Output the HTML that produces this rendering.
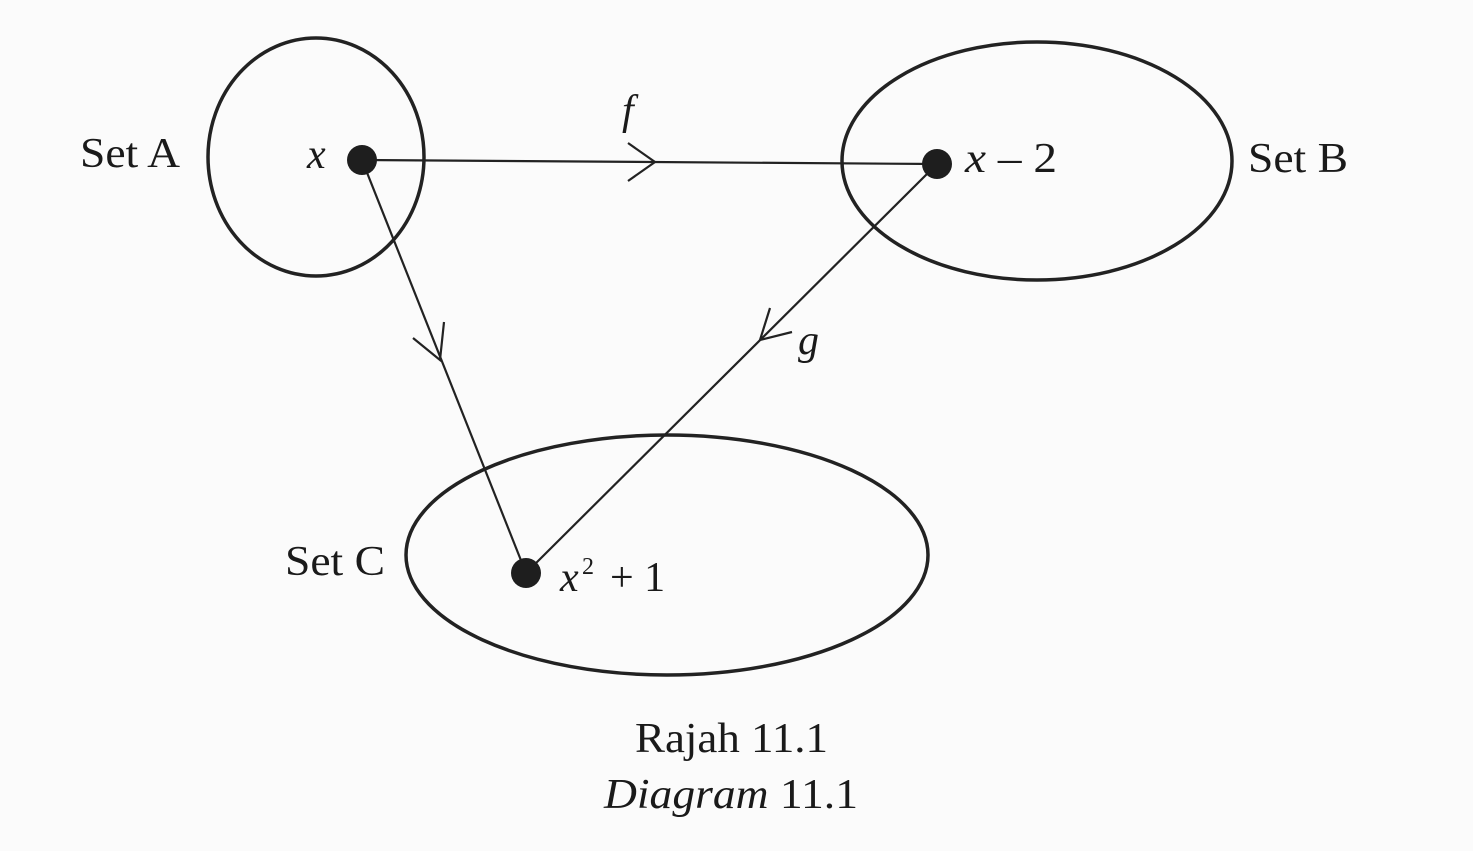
<!DOCTYPE html>
<html><head><meta charset="utf-8"><style>
html,body{margin:0;padding:0;background:#fbfbfb;}
svg{display:block;}
text{font-family:"Liberation Serif",serif;fill:#1a1a1a;}
</style></head><body>
<svg width="1473" height="851" viewBox="0 0 1473 851" xmlns="http://www.w3.org/2000/svg">
<rect width="1473" height="851" fill="#fbfbfb"/>
<g fill="none" stroke="#222" stroke-width="3.5">
<ellipse cx="316" cy="157" rx="108" ry="119"/>
<ellipse cx="1037" cy="161" rx="195" ry="119"/>
<ellipse cx="667" cy="555" rx="261" ry="120"/>
</g>
<g stroke="#222" stroke-width="2.2" fill="none">
<line x1="362" y1="160" x2="937" y2="164"/>
<line x1="362" y1="160" x2="526" y2="573"/>
<line x1="937" y1="164" x2="526" y2="573"/>
<polyline points="628,143 655,162 628,181"/>
<polyline points="413,338 440,360 444,322"/>
<polyline points="792,332 760,340 770,308"/>
</g>
<g fill="#1e1e1e">
<circle cx="362" cy="160" r="15"/>
<circle cx="937" cy="164" r="15"/>
<circle cx="526" cy="573" r="15"/>
</g>
<text x="80" y="167" font-size="42" textLength="100" lengthAdjust="spacingAndGlyphs">Set A</text>
<text x="307" y="168" font-size="42" font-style="italic">x</text>
<text x="622" y="124" font-size="42" font-style="italic">f</text>
<text x="965" y="172" font-size="42" textLength="92" lengthAdjust="spacingAndGlyphs"><tspan font-style="italic">x</tspan> – 2</text>
<text x="1248" y="172" font-size="42" textLength="100" lengthAdjust="spacingAndGlyphs">Set B</text>
<text x="798" y="354" font-size="42" font-style="italic">g</text>
<text x="285" y="575" font-size="42" textLength="100" lengthAdjust="spacingAndGlyphs">Set C</text>
<text x="560" y="591" font-size="42" font-style="italic">x</text>
<text x="582" y="574" font-size="24">2</text>
<text x="610" y="591" font-size="42">+ 1</text>
<text x="635" y="752" font-size="42" textLength="193" lengthAdjust="spacingAndGlyphs">Rajah 11.1</text>
<text x="604" y="808" font-size="42" textLength="254" lengthAdjust="spacingAndGlyphs"><tspan font-style="italic">Diagram</tspan> 11.1</text>
</svg>
</body></html>
